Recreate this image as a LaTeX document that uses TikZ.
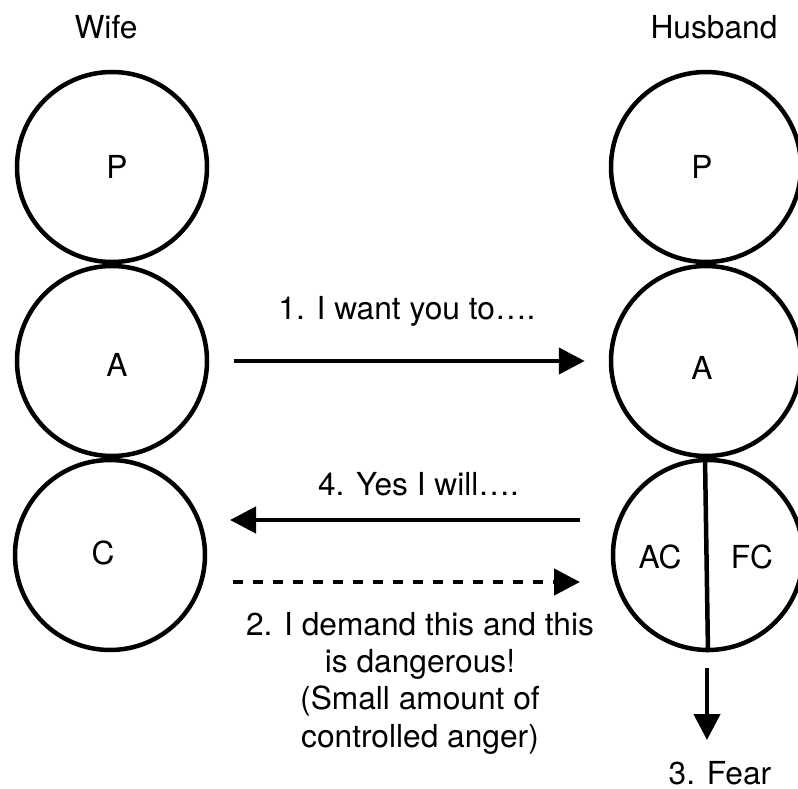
\documentclass[tikz,border=0pt]{standalone}
\usepackage{fontspec}
\setmainfont{TeX Gyre Heros}
\usetikzlibrary{arrows.meta}
\begin{document}
\begin{tikzpicture}[x=1pt,y=-1pt,
  ego/.style={circle,draw,line width=4.5pt,minimum size=190pt,inner sep=0pt},
  lbl/.style={font=\fontsize{31.7}{37.3}\selectfont,inner sep=0pt,anchor=base},
  arr/.style={line width=4.5pt,-{Triangle[length=26pt,width=26pt]}}]
\useasboundingbox (0,0) rectangle (798,789);
% titles
\node[lbl] (wife) at (106,38.5) {Wife};
\node[lbl] (husband) at (714,38.5) {Husband};
% wife ego states
\node[ego] (wp) at (112,167) {};
\node[ego] (wa) at (112,361) {};
\node[ego] (wc) at (110,555) {};
\node[lbl] (wpl) at (117,178.5) {P};
\node[lbl] (wal) at (117,376.5) {A};
\node[lbl] (wcl) at (103,564.5) {C};
% husband ego states
\node[ego] (hp) at (706,167) {};
\node[ego] (ha) at (706,361) {};
\node[ego] (hc) at (708,555) {};
\node[lbl] (hpl) at (702,178.5) {P};
\node[lbl] (hal) at (702,379.5) {A};
\node[lbl] (acl) at (660,568.5) {AC};
\node[lbl] (fcl) at (752,568.5) {FC};
\draw[line width=4.5pt] ([xshift=-3pt]hc.north) -- (hc.south);
% transactions
\coordinate (a4s) at (580,520);
\coordinate (a4e) at (230,520);
\coordinate (a2s) at (233,582);
\coordinate (a2e) at (580,582);
\coordinate (a3s) at (707,668);
\coordinate (a3e) at (707,740);
\draw[arr,shorten <=25pt,shorten >=24pt] (wa) -- (ha);
\node[lbl] (t1) at (407,319.5) {1. I want you to….};
\draw[arr] (a4s) -- (a4e);
\node[lbl] (t4) at (418.5,495) {4. Yes I will….};
\draw[arr,dash pattern=on 10pt off 10pt] (a2s) -- (a2e);
\node[font=\fontsize{31.7}{37.3}\selectfont,inner sep=0pt,anchor=north,align=center] (t2) at (420,612) {2. I demand this and this\\is dangerous!\\(Small amount of\\controlled anger)};
\draw[arr] (a3s) -- (a3e);
\node[lbl] (t3) at (720,784) {3. Fear};
\end{tikzpicture}
\end{document}
